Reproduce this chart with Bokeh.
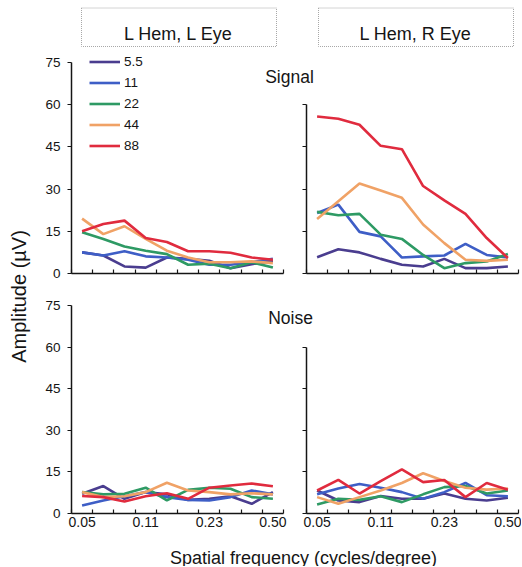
import math
from bokeh.plotting import figure
from bokeh.models import Range1d, FixedTicker, NumeralTickFormatter, Legend, LegendItem, Plot
from bokeh.layouts import column, row
from bokeh.embed import file_html
from bokeh.resources import INLINE
from bokeh.core.properties import value

FONT = "Liberation Sans"
TXT = "#151515"
HAS_FA = "frame_align" in Plot.properties()

# ---- data ----
freqs = [0.0500, 0.0646, 0.0834, 0.1077, 0.1391, 0.1797, 0.2321, 0.2997, 0.3871, 0.5000]
tick_freqs = [0.0500, 0.1077, 0.2321, 0.5000]
y_ticks_left = [0, 15, 30, 45, 60, 75]
y_ticks_right = [0, 15, 30, 45, 60]
contrasts = ["5.5", "11", "22", "44", "88"]
colors = ["#4a3d8f", "#3e5ec6", "#2e9a64", "#f0a266", "#e02b3e"]

headers = ["L Hem, L Eye", "L Hem, R Eye"]
row_titles = ["Signal", "Noise"]
x_title = "Spatial frequency (cycles/degree)"
y_title = "Amplitude (\u00b5V)"

# L Eye, signal
sig_L_55 = [7.5, 6.4, 2.5, 2.1, 5.7, 5.2, 4.5, 1.9, 3.3, 4.5]
sig_L_11 = [7.5, 6.4, 7.9, 6.1, 5.7, 4.9, 3.1, 3.1, 4.0, 5.2]
sig_L_22 = [14.7, 12.3, 9.6, 8.1, 6.9, 3.1, 3.5, 1.9, 4.0, 2.1]
sig_L_44 = [19.5, 14.0, 16.8, 12.3, 8.1, 5.7, 4.0, 4.0, 4.3, 3.7]
sig_L_88 = [15.0, 17.6, 18.8, 12.6, 11.2, 7.9, 7.9, 7.4, 5.7, 4.9]
# R Eye, signal
sig_R_55 = [5.8, 8.6, 7.5, 5.2, 3.1, 2.5, 5.2, 1.9, 1.9, 2.5]
sig_R_11 = [21.5, 24.5, 14.8, 13.2, 5.7, 6.1, 6.4, 10.5, 6.6, 5.7]
sig_R_22 = [21.9, 20.7, 21.2, 13.8, 12.3, 6.6, 1.9, 3.7, 4.3, 6.9]
sig_R_44 = [19.4, 25.7, 32.0, 29.5, 26.9, 17.4, 10.8, 4.9, 4.5, 4.9]
sig_R_88 = [55.8, 55.0, 52.9, 45.4, 44.2, 31.1, 26.0, 21.2, 12.6, 5.5]
# L Eye, noise
noi_L_55 = [7.1, 9.9, 5.3, 7.7, 6.9, 4.9, 5.3, 6.2, 3.5, 7.7]
noi_L_11 = [2.9, 4.7, 6.2, 7.7, 5.9, 4.9, 4.7, 5.9, 8.3, 6.9]
noi_L_22 = [7.7, 6.9, 7.1, 9.3, 4.7, 8.5, 9.3, 8.9, 5.9, 5.3]
noi_L_44 = [7.7, 5.9, 6.2, 7.7, 11.1, 8.3, 7.7, 6.9, 7.3, 6.9]
noi_L_88 = [6.3, 5.9, 4.3, 6.2, 7.3, 5.3, 9.3, 10.1, 10.8, 9.8]
# R Eye, noise
noi_R_55 = [8.3, 4.7, 4.1, 6.3, 5.3, 5.3, 7.2, 5.3, 4.7, 5.7]
noi_R_11 = [6.9, 9.0, 10.6, 9.3, 7.7, 5.3, 7.7, 11.0, 6.6, 6.2]
noi_R_22 = [3.2, 5.3, 4.9, 6.2, 4.1, 6.9, 9.5, 9.9, 7.2, 8.3]
noi_R_44 = [5.9, 3.5, 5.9, 8.3, 11.0, 14.5, 11.7, 9.3, 8.6, 9.0]
noi_R_88 = [8.3, 12.1, 7.2, 11.7, 15.9, 11.3, 12.1, 5.9, 11.0, 8.6]

# ---- x range: half a step beyond first/last frequency ----
step = (freqs[-1] / freqs[0]) ** (1.0 / (len(freqs) - 1))
half = math.sqrt(step)
x_lo, x_hi = freqs[0] / half, freqs[-1] * half
minor = [f / half for f in freqs] + [freqs[-1] * half]

TOTAL_W, TOTAL_H = 521, 566
TOP_H = 290
BOT_H = TOTAL_H - TOP_H
Y_TOP = 80  # range top (axis line itself stops at the last tick)


def panel(series, yticks, frame_h, mb_top, mb_bottom, left, xlabels, legend=False):
    if left:
        w, mbl, mbr = 294, 71, 11
    else:
        w, mbl, mbr = TOTAL_W - 294, 12, TOTAL_W - 294 - 12 - 212
    h = mb_top + frame_h + mb_bottom
    kw = dict(frame_align=False) if HAS_FA else {}
    p = figure(width=w, height=h, x_axis_type="log",
               x_range=Range1d(x_lo, x_hi), y_range=Range1d(0, Y_TOP),
               output_backend="svg", toolbar_location=None,
               min_border_left=mbl, min_border_right=mbr,
               min_border_top=mb_top, min_border_bottom=mb_bottom,
               background_fill_color=None, border_fill_color=None,
               outline_line_color=None, **kw)
    p.grid.visible = False
    rends = []
    for vals, c in zip(series, colors):
        rends.append(p.line(freqs, vals, line_color=c, line_width=2.6))

    xa = p.xaxis[0]
    xa.ticker = FixedTicker(ticks=tick_freqs if xlabels else [], minor_ticks=minor)
    xa.formatter = NumeralTickFormatter(format="0.00")
    xa.major_tick_in = 0
    xa.major_tick_out = 0
    xa.minor_tick_in = 4
    xa.minor_tick_out = 0
    xa.axis_line_width = 1.5
    xa.axis_line_color = TXT
    xa.minor_tick_line_color = TXT
    xa.minor_tick_line_width = 1.2
    xa.major_label_text_font = FONT
    xa.major_label_text_color = TXT
    xa.major_label_text_font_size = "14px"
    xa.major_label_standoff = 3

    ya = p.yaxis[0]
    ya.bounds = (yticks[0], yticks[-1])
    ya.axis_line_width = 1.5
    ya.axis_line_color = TXT
    ya.major_label_text_font = FONT
    ya.major_label_text_color = TXT
    ya.major_label_text_font_size = "13.5px"
    ya.major_label_standoff = 7
    ya.major_tick_line_color = TXT
    ya.major_tick_line_width = 1.2
    ya.minor_tick_line_color = TXT
    ya.minor_tick_line_width = 1.2
    if left:
        ya.ticker = FixedTicker(ticks=yticks, minor_ticks=[])
        ya.major_tick_in = 0
        ya.major_tick_out = 4
    else:
        ya.ticker = FixedTicker(ticks=[], minor_ticks=yticks)
        ya.minor_tick_in = 0
        ya.minor_tick_out = 4

    if legend:
        items = [LegendItem(label=lab, renderers=[r]) for lab, r in zip(contrasts, rends)]
        lg = Legend(items=items, location=(18, 117), padding=0, margin=0,
                    border_line_color=None, background_fill_alpha=0,
                    label_text_font=FONT, label_text_font_size="13.5px",
                    label_text_color=TXT, glyph_width=31, glyph_height=21,
                    label_height=21, label_standoff=4, spacing=0)
        p.add_layout(lg)
    return p


# top row: 0 at y=273, 75 at y=62 -> 80 at ~48 ; bottom row: 0 at 513, 75 at 305
TOP_FRAME = 225
BOT_FRAME = 222
tl = panel([sig_L_55, sig_L_11, sig_L_22, sig_L_44, sig_L_88], y_ticks_left,
           TOP_FRAME, 273 - TOP_FRAME, TOP_H - 273, True, False, legend=True)
tr = panel([sig_R_55, sig_R_11, sig_R_22, sig_R_44, sig_R_88], y_ticks_right,
           TOP_FRAME, 273 - TOP_FRAME, TOP_H - 273, False, False)
bl = panel([noi_L_55, noi_L_11, noi_L_22, noi_L_44, noi_L_88], y_ticks_left,
           BOT_FRAME, 513 - TOP_H - BOT_FRAME, TOTAL_H - 513, True, True)
br = panel([noi_R_55, noi_R_11, noi_R_22, noi_R_44, noi_R_88], y_ticks_right,
           BOT_FRAME, 513 - TOP_H - BOT_FRAME, TOTAL_H - 513, False, True)

# ---- background figure for free text (sits underneath the panels) ----
bgkw = dict(frame_align=False) if HAS_FA else {}
bg = figure(width=TOTAL_W, height=TOTAL_H, x_range=Range1d(0, TOTAL_W),
            y_range=Range1d(TOTAL_H, 0),
            output_backend="svg", toolbar_location=None, min_border=0,
            x_axis_location=None, y_axis_location=None, outline_line_color=None,
            background_fill_color="white", border_fill_color="white", **bgkw)
bg.grid.visible = False
bg.quad(left=[81, 318], right=[276, 513], top=[7.5, 7.5], bottom=[46, 46],
        fill_color=None, line_color="#a8a8a8", line_width=1, line_dash="1 1")
bg.text(x=[178, 415], y=[33, 33], text=headers, text_align="center",
        text_baseline="alphabetic", text_font=value(FONT), text_font_size="18px",
        text_color=TXT)
bg.text(x=[289, 290], y=[76, 317], text=row_titles, text_align="center",
        text_baseline="alphabetic", text_font=value(FONT), text_font_size="17.5px",
        text_color=TXT)
bg.text(x=[303], y=[557], text=[x_title], text_align="center",
        text_baseline="alphabetic", text_font=value(FONT), text_font_size="18px",
        text_color=TXT)
bg.text(x=[18], y=[296], text=[y_title], text_align="center", angle=math.pi / 2,
        text_baseline="middle", text_font=value(FONT), text_font_size="20px",
        text_color=TXT)

panels = column(row(tl, tr, spacing=0), row(bl, br, spacing=0), spacing=0,
                styles={"position": "absolute", "top": "0px", "left": "0px"})
layout = column(bg, panels, spacing=0, width=TOTAL_W, height=TOTAL_H,
                styles={"position": "relative"})

open("out.html", "w").write(file_html(layout, INLINE))
